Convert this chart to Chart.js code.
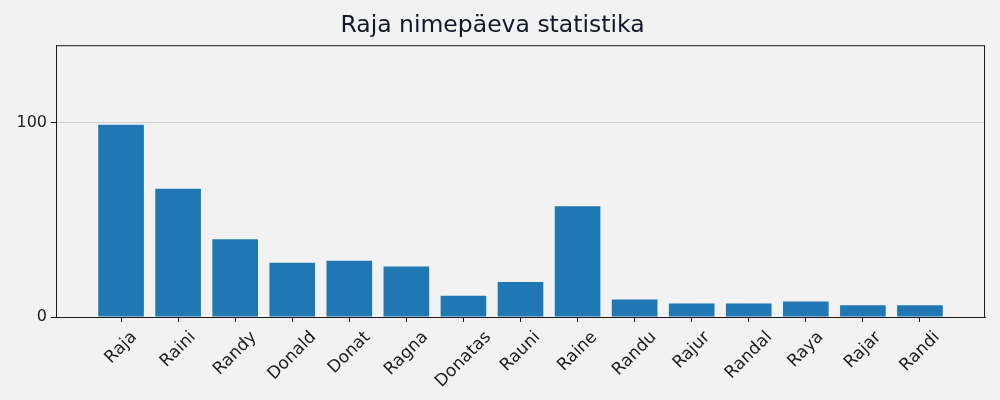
<!DOCTYPE html>
<html>
<head>
<meta charset="utf-8">
<script src="https://cdn.jsdelivr.net/npm/chart.js@4/dist/chart.umd.min.js"></script>
<style>
  html, body { margin: 0; padding: 0; background: #f2f2f2; }
  #wrap { width: 1000px; height: 400px; }
</style>
</head>
<body>
<div id="wrap"><canvas id="chart"></canvas></div>
<script>
const names = ["Raja", "Raini", "Randy", "Donald", "Donat", "Ragna", "Donatas", "Rauni",
  "Raine", "Randu", "Rajur", "Randal", "Raya", "Rajar", "Randi"];
const counts = [99, 66, 40, 28, 29, 26, 11, 18, 57, 9, 7, 7, 8, 6, 6];
const yTicks = [0, 100];

const ink = "#1a1a1a";
const font = "'DejaVu Sans', sans-serif";
const labelSize = 17;

// full box round the plot, like matplotlib spines
const frame = {
  id: "frame",
  afterDraw(chart) {
    const { ctx, chartArea: a } = chart;
    ctx.save();
    ctx.strokeStyle = ink;
    ctx.lineWidth = 1;
    ctx.strokeRect(a.left + 0.5, a.top + 0.5, a.right - a.left - 1, a.bottom - a.top);
    ctx.restore();
  },
};

// rotated x labels centred under their tick (chart.js right-aligns them)
const xLabels = {
  id: "xLabels",
  afterDraw(chart) {
    const { ctx, chartArea: a } = chart;
    const sx = chart.scales.x;
    const k = Math.SQRT1_2;
    ctx.save();
    ctx.fillStyle = ink;
    ctx.font = `${labelSize}px ${font}`;
    ctx.textAlign = "center";
    ctx.textBaseline = "middle";
    names.forEach((n, i) => {
      const w = ctx.measureText(n).width;
      const side = (w + labelSize * 1.1) * k;
      const x = sx.getPixelForValue(i);
      const y = a.bottom + 11 + side / 2;
      ctx.save();
      ctx.translate(x, y);
      ctx.rotate(-Math.PI / 4);
      ctx.fillText(n, 0, 0);
      ctx.restore();
    });
    ctx.restore();
  },
};

new Chart(document.getElementById("chart"), {
  type: "bar",
  data: {
    datasets: [
      {
        data: names.map((n, i) => ({ x: i, y: counts[i] })),
        backgroundColor: "#1f77b4",
        borderWidth: 0,
        categoryPercentage: 1,
        barPercentage: 0.8,
      },
    ],
  },
  plugins: [frame, xLabels],
  options: {
    responsive: true,
    maintainAspectRatio: false,
    animation: false,
    layout: { padding: { right: 15 } },
    plugins: {
      legend: { display: false },
      tooltip: { enabled: false },
      title: {
        display: true,
        text: "Raja nimepäeva statistika",
        color: "#111827",
        font: { family: font, size: 23.5, weight: "normal" },
        padding: { top: 12, bottom: 5 },
      },
    },
    scales: {
      x: {
        type: "linear",
        offset: false,
        min: -1.14,
        max: names.length - 1 + 1.14,
        afterBuildTicks: (s) => { s.ticks = names.map((n, i) => ({ value: i })); },
        afterFit: (s) => { s.height = 83; },
        grid: { offset: false, drawOnChartArea: false, color: ink, tickColor: ink, tickLength: 5 },
        border: { color: ink },
        ticks: { display: false },
      },
      y: {
        min: 0,
        max: 140,
        afterBuildTicks: (s) => { s.ticks = yTicks.map((v) => ({ value: v })); },
        afterFit: (s) => { s.width = 56; },
        grid: { color: "#d0d0d0", tickColor: ink, tickLength: 5 },
        border: { color: ink },
        ticks: {
          color: ink,
          font: { family: font, size: 16 },
          padding: 4,
        },
      },
    },
  },
});
</script>
</body>
</html>
